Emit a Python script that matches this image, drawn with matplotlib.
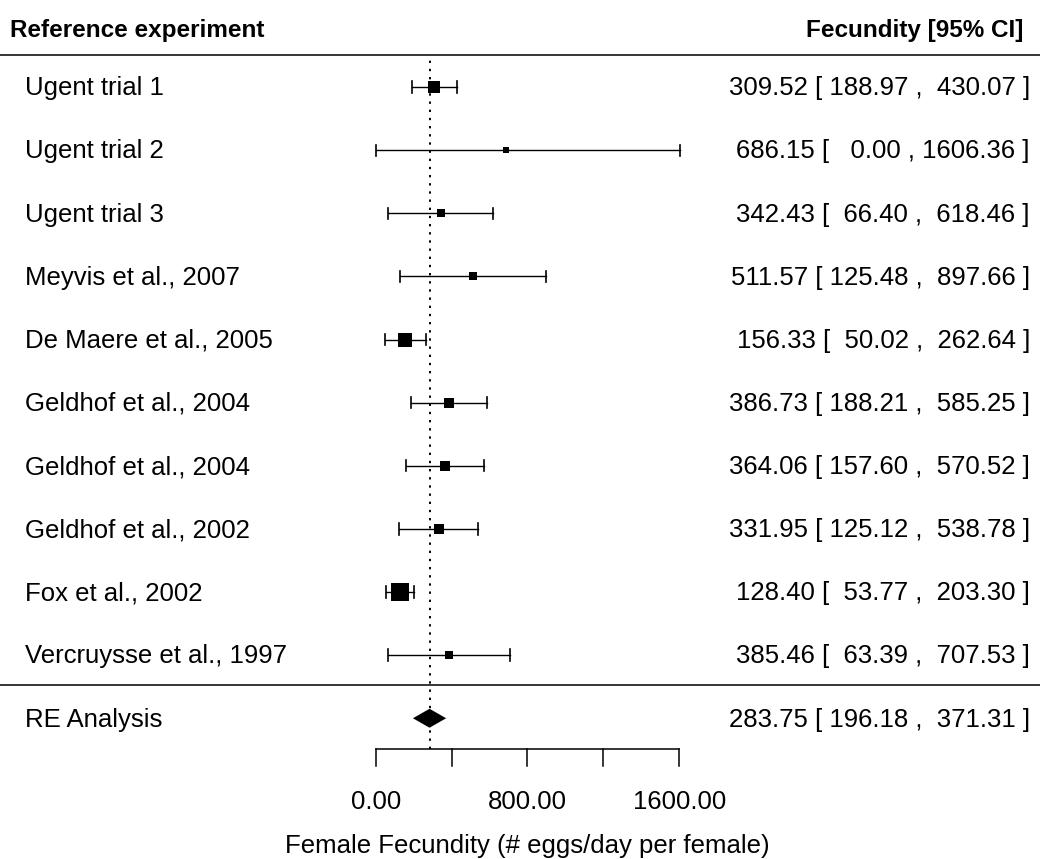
import numpy as np
import matplotlib
matplotlib.use("Agg")
import matplotlib.pyplot as plt

# study data
studies = ["Ugent trial 1", "Ugent trial 2", "Ugent trial 3",
           "Meyvis et al., 2007", "De Maere et al., 2005",
           "Geldhof et al., 2004", "Geldhof et al., 2004",
           "Geldhof et al., 2002", "Fox et al., 2002",
           "Vercruysse et al., 1997"]
est = [309.52, 686.15, 342.43, 511.57, 156.33, 386.73, 364.06, 331.95, 128.40, 385.46]
lower = [188.97, 0.00, 66.40, 125.48, 50.02, 188.21, 157.60, 125.12, 53.77, 63.39]
upper = [430.07, 1606.36, 618.46, 897.66, 262.64, 585.25, 570.52, 538.78, 203.30, 707.53]

re_label = "RE Analysis"
re_est, re_lower, re_upper = 283.75, 196.18, 371.31

xticks = [0, 400, 800, 1200, 1600]
xticklabels = ["0.00", "", "800.00", "", "1600.00"]
xlabel = "Female Fecundity (# eggs/day per female)"

plt.rcParams['font.family'] = ['Liberation Sans', 'DejaVu Sans']

fig = plt.figure(figsize=(10.4, 8.59), dpi=100)
ax = fig.add_axes([0, 0, 1, 1])
ax.set_xlim(-1980, 3501)
ax.set_ylim(-2.23, 11.38)
ax.axis('off')

k = len(studies)
rows = np.arange(k, 0, -1)

# point sizes from precision, like metafor (range 0.5 .. 1.5)
est_a = np.array(est)
upper_a = np.array(upper)
prec = 1.0 / (upper_a - est_a)
psize = (prec - prec.min()) / (prec.max() - prec.min()) + 0.5

fs = 18.5
cap = 0.09
for i in range(k):
    y = rows[i]
    ax.plot([lower[i], upper[i]], [y, y], color='black', lw=1.0)
    ax.plot([lower[i], lower[i]], [y - cap, y + cap], color='black', lw=1.2)
    ax.plot([upper[i], upper[i]], [y - cap, y + cap], color='black', lw=1.2)
    ax.plot(est[i], y, marker='s', color='black', markersize=8.6 * psize[i],
            markeredgewidth=0)
    ax.text(-1848, y - 0.02, studies[i], fontsize=fs, va='center', ha='left')
    ax.text(3448, y - 0.02, "{:6.2f} [{:7.2f} , {:7.2f} ]".format(est[i], lower[i], upper[i]),
            fontsize=fs, va='center', ha='right')

# summary diamond
ax.fill([re_lower, re_est, re_upper, re_est], [0, 0.15, 0, -0.15],
        color='black', lw=0)
ax.text(-1848, -0.02, re_label, fontsize=fs, va='center', ha='left')
ax.text(3448, -0.02, "{:6.2f} [{:7.2f} , {:7.2f} ]".format(re_est, re_lower, re_upper),
        fontsize=fs, va='center', ha='right')

# reference line at the summary estimate
ax.plot([re_est, re_est], [-0.49, 10.45], color='black', lw=1.4,
        linestyle=(0, (1.2, 3.0)))

# horizontal rules
ax.axhline(10.51, color='black', lw=1.1)
ax.axhline(0.52, color='black', lw=1.1)

# headers
ax.text(-1927, 10.89, "Reference experiment", fontsize=17.5,
        fontweight='bold', va='center', ha='left')
ax.text(3411, 10.89, "Fecundity [95% CI]", fontsize=17.5,
        fontweight='bold', va='center', ha='right')

# x axis
ax.plot([xticks[0], xticks[-1]], [-0.49, -0.49], color='black', lw=1.1)
for t, lab in zip(xticks, xticklabels):
    ax.plot([t, t], [-0.49, -0.76], color='black', lw=1.1)
    if lab:
        ax.text(t, -1.32, lab, fontsize=fs, va='center', ha='center')
ax.text((xticks[0] + xticks[-1]) / 2, -2.03, xlabel, fontsize=fs,
        va='center', ha='center')

fig.savefig("out.png", dpi=100)
